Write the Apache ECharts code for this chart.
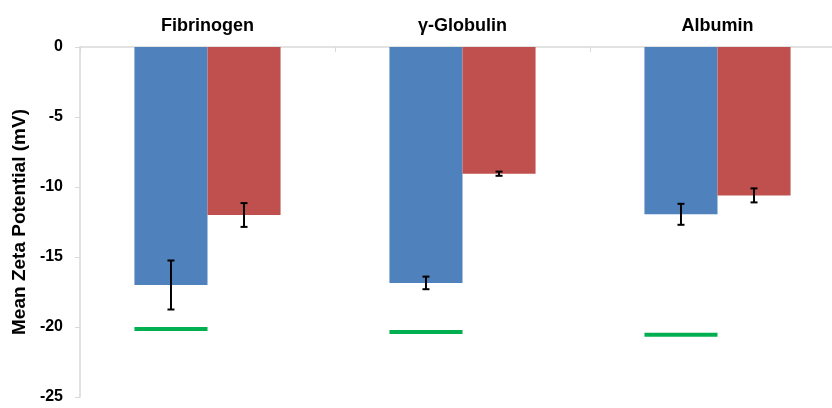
<!DOCTYPE html>
<html><head><meta charset="utf-8">
<script src="https://cdn.jsdelivr.net/npm/echarts@6/dist/echarts.min.js"></script>
<style>html,body{margin:0;padding:0;background:#fff;overflow:hidden;width:832px;height:408px}#c{width:845px;height:408px}</style>
</head><body><div id="c"></div>
<script>
var categories = ['Fibrinogen', 'γ-Globulin', 'Albumin'];
var blueValues = [-17.0, -16.85, -11.95];
var blueErrors = [1.75, 0.45, 0.75];
var redValues = [-12.0, -9.05, -10.6];
var redErrors = [0.85, 0.15, 0.5];
var greenValues = [-20.15, -20.35, -20.55];
var yTicks = [0, -5, -10, -15, -20, -25];

var GAP = 0.427; // barCategoryGap fraction
var chart = echarts.init(document.getElementById('c'));
var FONT = 'Liberation Sans, Arial, sans-serif';

function barWidthOf(api) {
  var band = api.size([1, 0])[0];
  return band * (1 - GAP) / 2;
}

function errorRenderer(side) {
  return function (params, api) {
    var idx = api.value(0);
    var v = api.value(1), e = api.value(2);
    var bw = barWidthOf(api);
    var c = api.coord([idx, v]);
    var x = c[0] + side * bw / 2;
    var top = api.coord([idx, v + e])[1];
    var bot = api.coord([idx, v - e])[1];
    var cap = 3.5;
    var st = {stroke: '#000', lineWidth: 2};
    return {type: 'group', children: [
      {type: 'line', shape: {x1: x, y1: top, x2: x, y2: bot}, style: st},
      {type: 'line', shape: {x1: x - cap, y1: top, x2: x + cap, y2: top}, style: st},
      {type: 'line', shape: {x1: x - cap, y1: bot, x2: x + cap, y2: bot}, style: st}
    ]};
  };
}

chart.setOption({
  animation: false,
  backgroundColor: '#fff',
  grid: {left: 80, top: 47, right: 0, bottom: 11, containLabel: false},
  xAxis: {
    type: 'category', position: 'top', data: categories,
    axisLine: {lineStyle: {color: '#d9d9d9', width: 1.5}},
    axisTick: {show: true, inside: true, length: 5, lineStyle: {color: '#d9d9d9'}},
    axisLabel: {fontFamily: FONT, fontWeight: 'bold', fontSize: 18, color: '#000', margin: 12}
  },
  yAxis: {
    type: 'value', min: -25, max: 0, interval: 5,
    name: 'Mean Zeta Potential (mV)', nameLocation: 'middle', nameGap: 47,
    nameTextStyle: {fontFamily: FONT, fontWeight: 'bold', fontSize: 19, color: '#000'},
    axisLine: {show: true, lineStyle: {color: '#d9d9d9', width: 1.5}},
    axisTick: {show: true, length: 5, lineStyle: {color: '#d9d9d9'}},
    splitLine: {show: false},
    axisLabel: {fontFamily: FONT, fontWeight: 'bold', fontSize: 16, color: '#000', margin: 17,
      customValues: yTicks}
  },
  series: [
    {type: 'bar', data: blueValues, barGap: '0%', barCategoryGap: (GAP * 100) + '%',
     itemStyle: {color: '#4f81bd'}},
    {type: 'bar', data: redValues, itemStyle: {color: '#c0504d'}},
    {type: 'custom', renderItem: errorRenderer(-1), z: 5,
     data: blueValues.map(function (v, i) { return [i, v, blueErrors[i]]; })},
    {type: 'custom', renderItem: errorRenderer(1), z: 5,
     data: redValues.map(function (v, i) { return [i, v, redErrors[i]]; })},
    {type: 'custom', z: 5,
     renderItem: function (params, api) {
       var idx = api.value(0);
       var bw = barWidthOf(api);
       var c = api.coord([idx, api.value(1)]);
       return {type: 'line', shape: {x1: c[0] - bw, y1: c[1], x2: c[0], y2: c[1]},
         style: {stroke: '#00b050', lineWidth: 4}};
     },
     data: greenValues.map(function (v, i) { return [i, v]; })}
  ]
});
</script></body></html>
